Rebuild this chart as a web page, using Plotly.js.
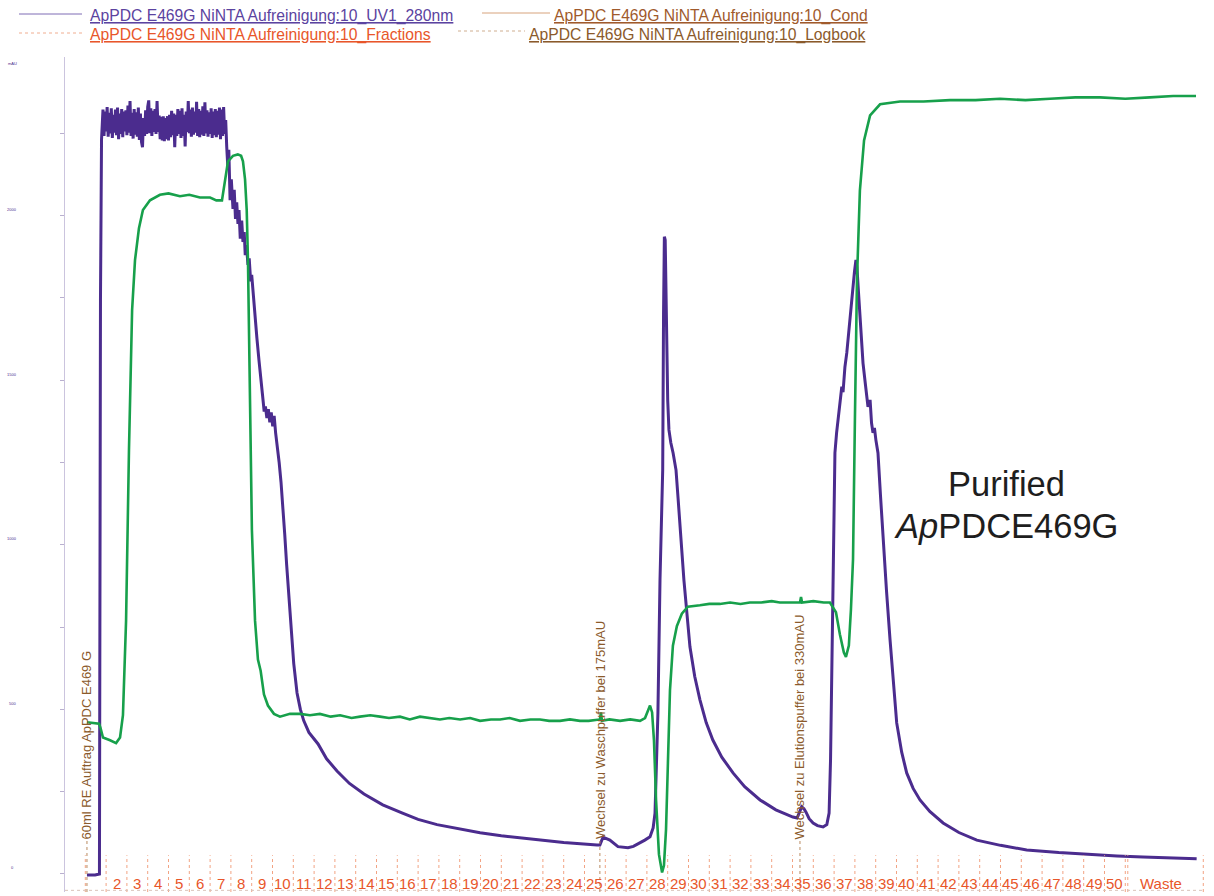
<!DOCTYPE html>
<html>
<head>
<meta charset="utf-8">
<script src="https://cdn.plot.ly/plotly-3.0.1.min.js"></script>
<style>html,body{margin:0;padding:0;background:#fff;}#chart{width:1214px;height:896px;}</style>
</head>
<body>
<div id="chart"></div>
<script>
// ---------- DATA (volume in ml, UV in mAU, conductivity in mS/cm) ----------
var uvStartML  = [0.8, 4.7, 6.8, 7.3, 7.8];
var uvStartMAU = [-3, -3, 0, 1744, 2230];

var plateauML = [8.0,8.5,9.0,9.5,10.0,10.5,11.0,11.5,12.0,12.5,13.0,13.5,14.0,14.5,15.0,15.5,16.0,16.5,17.0,17.5,
  18.0,18.5,19.0,19.5,20.0,20.5,21.0,21.5,22.0,22.5,23.0,23.5,24.0,24.5,25.0,25.5,26.0,26.5,27.0,27.5,
  28.0,28.5,29.0,29.5,30.0,30.5,31.0,31.5,32.0,32.5,33.0,33.5,34.0,34.5,35.0,35.5,36.0,36.5,37.0,37.5,
  38.0,38.5,39.0,39.5,40.0,40.5,41.0,41.5,42.0,42.5,43.0,43.5,44.0,44.5,45.0,45.5,46.0,46.5,47.0,47.5,
  48.0,48.5,49.0,49.5,50.0,50.5,51.0,51.5,52.0,52.5,53.0,53.5,54.0,54.5,55.0,55.5,56.0,56.5,57.0,57.5,
  58.0,58.5,59.0,59.5,60.0,60.5,61.0,61.5,62.0,62.5,63.0,63.5,64.0,64.5,65.0,65.5,66.0,66.5,67.0];
var plateauMAU = [2265,2322,2242,2316,2256,2330,2240,2312,2250,2326,2236,2306,2252,2322,2244,2328,2232,2310,2248,2324,
  2238,2316,2256,2320,2244,2334,2252,2348,2242,2312,2234,2324,2246,2314,2240,2328,2230,2310,2224,2208,
  2296,2242,2320,2248,2330,2350,2250,2326,2242,2318,2254,2324,2248,2348,2254,2304,2232,2300,2228,2302,
  2226,2296,2232,2302,2228,2306,2238,2318,2244,2310,2208,2306,2242,2324,2248,2318,2236,2326,2242,2306,
  2210,2316,2254,2348,2250,2322,2240,2328,2246,2316,2252,2346,2242,2324,2238,2318,2246,2332,2242,2344,
  2250,2320,2240,2314,2248,2326,2236,2316,2244,2324,2238,2318,2246,2328,2232,2322,2242,2330,2248];

var uvRestML = [67.5,68.0,68.5,69.0,69.6,70.2,71.0,71.6,72.2,72.8,73.4,73.9,74.5,75.2,75.8,76.4,76.9,77.5,78.2,78.8,
  79.5,80.0,80.6,81.5,82.5,83.5,84.3,85.2,86.0,86.6,87.3,88.0,88.7,89.4,90.1,90.8,91.5,92.3,93.2,94.1,
  95.0,95.9,96.8,98.6,100.2,101.8,103.4,105.0,107.5,111.9,116,121.0,127,134.0,143,152.5,160,169.1,
  180,189.8,200,213.8,230,246.0,247.4,248.9,250.5,252.2,256.1,260.9,263.5,266.7,269.0,271.5,273.0,273.9,274.6,275.3,
  276.3,277.0,277.6,278.0,278.4,278.8,279.2,279.5,280.0,280.6,281.5,282.6,283.3,284.0,285.0,286.4,287.8,290.7,293,295.5,
  298.5,301.7,306,311.4,317,324.4,332,340.2,342.2,343.2,344.4,345.5,346.5,348,349.9,352,354.7,356.5,357.6,358.3,
  358.8,359.5,360.4,361.2,361.9,362.8,363.7,364.3,365.2,366.1,366.8,367.6,368.4,369.1,369.8,370.5,371.0,371.7,372.4,373.1,
  373.9,375.0,376.3,377.3,378.0,378.7,379.4,380.1,381.1,382.3,383.5,385.2,386.9,388.5,390.1,392.5,394.9,398,401.3,406,
  412.4,420,428.6,440,452.6,468,484.5,496,508.5,521,534.3];
var uvRestMAU = [2290,2208,2150,2200,2047,2110,2020,2078,1990,2040,1975,2017,1930,1985,1920,1950,1880,1910,1850,1870,
  1800,1820,1770,1700,1628,1560,1500,1455,1405,1420,1385,1412,1372,1402,1360,1392,1340,1300,1250,1190,
  1120,1030,940,770,640,550,500,466,430,395,350,313,275,243,210,185,166,150,
  136,125,116,106,96,88,88,112,108,103,83,80,84,94,103,113,140,185,320,489,
  893,1100,1227,1700,1936,1926,1780,1602,1440,1349,1310,1279,1250,1227,1140,1010,893,690,600,529,
  460,407,355,307,265,225,195,173,170,185,204,198,188,168,155,147,143,150,185,350,
  589,893,1279,1340,1379,1420,1480,1464,1540,1583,1630,1704,1740,1783,1830,1865,1841,1770,1704,1630,
  1552,1490,1419,1440,1370,1340,1355,1318,1279,1150,1015,860,711,580,459,370,307,260,225,190,
  155,126,103,87,73,65,58,55,52,49,46];

var condML = [0.8,6.6,7.3,8.5,11.9,14.8,16.7,18.1,19.6,21.0,22.5,23.9,25.8,27.7,31.1,35.9,40,45.5,50,55.1,
  60,63,65.7,67.2,68.6,71.0,73.3,74.9,75.8,76.8,77.6,78.2,79.2,80.1,81.6,83.0,84.3,85.9,87.8,90.7,
  93.6,96.0,98.4,103.2,108,112.8,118,122.5,128,132.1,137,141.7,146,151.3,156,160.9,165,170.5,175,180.2,
  185,189.8,195,199.4,204,209.0,214,218.6,223,228.2,233,237.8,242,247.4,247.9,248.4,252,257.1,262,266.7,
  269.1,270.5,271.5,272.5,273.4,274.4,275.8,277.3,278.2,279.2,280.1,281.1,282.5,284.4,286.8,289.7,295.5,300,305.1,310,
  315,319.5,325,330,333.9,338,343.6,344.1,344.6,350,355,358.0,360.9,362.8,364.7,365.7,367.1,368.1,369.1,370.0,
  371.0,372.4,374.4,377.3,382.1,391.7,403,415.7,428,439.8,452,463.8,476,487.8,500,511.8,523,534.0];
var condVal = [12.2,12.1,11.8,11.1,10.9,10.7,11.1,12.7,19.5,31.8,41.8,45.4,47.7,49.0,49.7,50.1,50.2,50.0,50.1,49.9,
  49.9,49.7,49.7,51.2,52.5,52.9,53.0,52.9,52.5,51.2,49.0,45.4,35.4,26.0,19.5,16.7,15.9,14.2,13.4,12.8,
  12.6,12.7,12.8,12.8,12.7,12.8,12.6,12.7,12.5,12.6,12.7,12.6,12.5,12.6,12.4,12.6,12.5,12.4,12.5,12.4,
  12.5,12.3,12.4,12.4,12.5,12.3,12.4,12.4,12.3,12.3,12.4,12.3,12.3,12.4,12.9,12.3,12.4,12.3,12.4,12.3,
  12.5,13.1,13.4,12.9,10.9,6.6,2.7,1.4,1.9,4.5,9.5,14.5,17.7,19.1,20.0,20.5,20.6,20.7,20.7,20.8,
  20.7,20.8,20.8,20.9,20.8,20.8,20.8,21.2,20.8,20.9,20.8,20.8,20.1,18.5,17.2,16.9,17.7,20.3,23.9,33.9,
  44.0,50.4,54.0,55.8,56.6,56.8,56.8,56.9,56.9,57.0,56.9,57.0,57.1,57.1,57.0,57.1,57.2,57.2];

var fractionStarts = [0,10,20,30,40,50,60,70,80,90,100,110,120,130,140,150,160,170,180,190,
  200,210,220,230,240,250,260,270,280,290,300,310,320,330,340,350,360,370,380,390,
  400,410,420,430,440,450,460,470,480,490,500];
var fractionLabels = ['','2','3','4','5','6','7','8','9','10','11','12','13','14','15','16','17','18','19','20',
  '21','22','23','24','25','26','27','28','29','30','31','32','33','34','35','36','37','38','39','40',
  '41','42','43','44','45','46','47','48','49','50'];
var wasteStart = 500, wasteEnd = 537.5, wasteLabel = 'Waste';

var logbookML = [0.8, 247.4, 343.6];
var logbookText = ['60ml RE Auftrag ApPDC E469 G', 'Wechsel zu Waschpuffer bei 175mAU', 'Wechsel zu Elutionspuffer bei 330mAU'];

var yTickLabels = [0, 500, 1000, 1500, 2000];
var legendNames = ['ApPDC E469G NiNTA Aufreinigung:10_UV1_280nm', 'ApPDC E469G NiNTA Aufreinigung:10_Fractions',
  'ApPDC E469G NiNTA Aufreinigung:10_Cond', 'ApPDC E469G NiNTA Aufreinigung:10_Logbook'];

// ---------- BUILD ----------
var FONT = 'Liberation Sans, Arial, sans-serif';
var cUV = '#4b2c8e', cCond = '#17a04b', cFrac = '#e8562a', cLog = '#8b5a2b';

var uvX = uvStartML.concat(plateauML, uvRestML);
var uvY = uvStartMAU.concat(plateauMAU, uvRestMAU);

var traces = [
  {x: uvX, y: uvY, type: 'scatter', mode: 'lines', line: {color: cUV, width: 3}, name: legendNames[0], yaxis: 'y'},
  {x: condML, y: condVal, type: 'scatter', mode: 'lines', line: {color: cCond, width: 2.6}, name: legendNames[2], yaxis: 'y2'}
];

var shapes = [];
var annotations = [];

// fraction marks
var allBounds = fractionStarts.concat([wasteEnd]);
allBounds.forEach(function(b){
  shapes.push({type:'line', xref:'x', yref:'paper', x0:b, x1:b, y0:0, y1:0.044,
    line:{color:'#f2a383', width:1, dash:'dot'}});
});
shapes.push({type:'line', xref:'x', yref:'paper', x0:wasteStart+1.2, x1:wasteStart+1.2, y0:0, y1:0.044,
    line:{color:'#f2a383', width:1, dash:'dot'}});
shapes.push({type:'line', xref:'paper', yref:'paper', x0:0, x1:0.999, y0:0.002, y1:0.002,
    line:{color:'#d9c2b8', width:1, dash:'dot'}});
fractionLabels.forEach(function(lab, i){
  if (!lab) return;
  var next = (i + 1 < fractionStarts.length) ? fractionStarts[i+1] : wasteStart;
  annotations.push({x:(fractionStarts[i]+next)/2, y:0.0105, xref:'x', yref:'paper', text:lab, showarrow:false,
    xanchor:'center', yanchor:'middle', font:{family:FONT, size:15, color:cFrac}});
});
annotations.push({x:(wasteStart+wasteEnd)/2 - 1.5, y:0.0105, xref:'x', yref:'paper', text:wasteLabel, showarrow:false,
  xanchor:'center', yanchor:'middle', font:{family:FONT, size:15, color:cFrac}});

// logbook
logbookML.forEach(function(v, i){
  shapes.push({type:'line', xref:'x', yref:'paper', x0:v, x1:v, y0:0, y1:0.062,
    line:{color:'#b98a60', width:1, dash:'dot'}});
  annotations.push({x:v, y:0.061, xref:'x', yref:'paper', text:logbookText[i], showarrow:false, textangle:-90,
    xanchor:'center', yanchor:'bottom', font:{family:FONT, size:13, color:cLog}});
});

// tiny y labels
yTickLabels.forEach(function(v){
  annotations.push({x:-0.0465, y:v, xref:'paper', yref:'y', yshift:6, text:String(v), showarrow:false,
    xanchor:'center', yanchor:'middle', font:{family:FONT, size:4, color:cUV}});
});
annotations.push({x:-0.0465, y:0.9928, xref:'paper', yref:'paper', text:'mAU', showarrow:false,
  xanchor:'center', yanchor:'middle', font:{family:FONT, size:4, color:cUV}});

// legend (drawn manually)
function px2paperX(p){ return (p - 65) / 1139; }
function px2paperY(p){ return (892 - p) / 835; }
shapes.push({type:'line', xref:'paper', yref:'paper', x0:px2paperX(19), x1:px2paperX(82), y0:px2paperY(14), y1:px2paperY(14), line:{color:'#7f6cb5', width:1}});
shapes.push({type:'line', xref:'paper', yref:'paper', x0:px2paperX(19), x1:px2paperX(82), y0:px2paperY(33), y1:px2paperY(33), line:{color:'#f0ad90', width:1, dash:'dot'}});
shapes.push({type:'line', xref:'paper', yref:'paper', x0:px2paperX(482), x1:px2paperX(550), y0:px2paperY(13), y1:px2paperY(13), line:{color:'#d7a37c', width:1}});
shapes.push({type:'line', xref:'paper', yref:'paper', x0:px2paperX(458), x1:px2paperX(525), y0:px2paperY(31), y1:px2paperY(31), line:{color:'#cfae90', width:1, dash:'dot'}});
var legPos = [[88,16,'#5b43a0'],[88,35,cFrac],[552,16,'#a05a2c'],[527,35,cLog]];
legendNames.forEach(function(n, i){
  annotations.push({x:px2paperX(legPos[i][0]), y:px2paperY(legPos[i][1]), xref:'paper', yref:'paper', text:'<u>'+n+'</u>',
    showarrow:false, xanchor:'left', yanchor:'middle', font:{family:FONT, size:15.7, color:legPos[i][2]}});
});

// Purified label
annotations.push({x:px2paperX(1006), y:px2paperY(484), xref:'paper', yref:'paper', text:'Purified', showarrow:false,
  xanchor:'center', yanchor:'middle', font:{family:FONT, size:34.5, color:'#1e1e1e'}});
annotations.push({x:px2paperX(1006), y:px2paperY(526), xref:'paper', yref:'paper', text:'<i>Ap</i>PDCE469G', showarrow:false,
  xanchor:'center', yanchor:'middle', font:{family:FONT, size:34.5, color:'#1e1e1e'}});

var layout = {
  width:1214, height:896,
  margin:{l:65, r:10, t:57, b:4, pad:0},
  paper_bgcolor:'#ffffff', plot_bgcolor:'#ffffff',
  showlegend:false,
  xaxis:{range:[-9.76, 537.84], showline:false, showgrid:false, zeroline:false, showticklabels:false, ticks:''},
  yaxis:{range:[-54.7, 2481.8], showline:true, linecolor:'#cbc4de', linewidth:1.5, showgrid:false, zeroline:false,
    ticks:'outside', ticklen:4, tickcolor:'#b9b0cf', tickwidth:1, dtick:250, tick0:0, showticklabels:false},
  yaxis2:{range:[0, 60], overlaying:'y', side:'right', visible:false, showgrid:false, zeroline:false},
  shapes:shapes,
  annotations:annotations,
  font:{family:FONT}
};

Plotly.newPlot('chart', traces, layout, {staticPlot:true, displayModeBar:false});
</script>
</body>
</html>
